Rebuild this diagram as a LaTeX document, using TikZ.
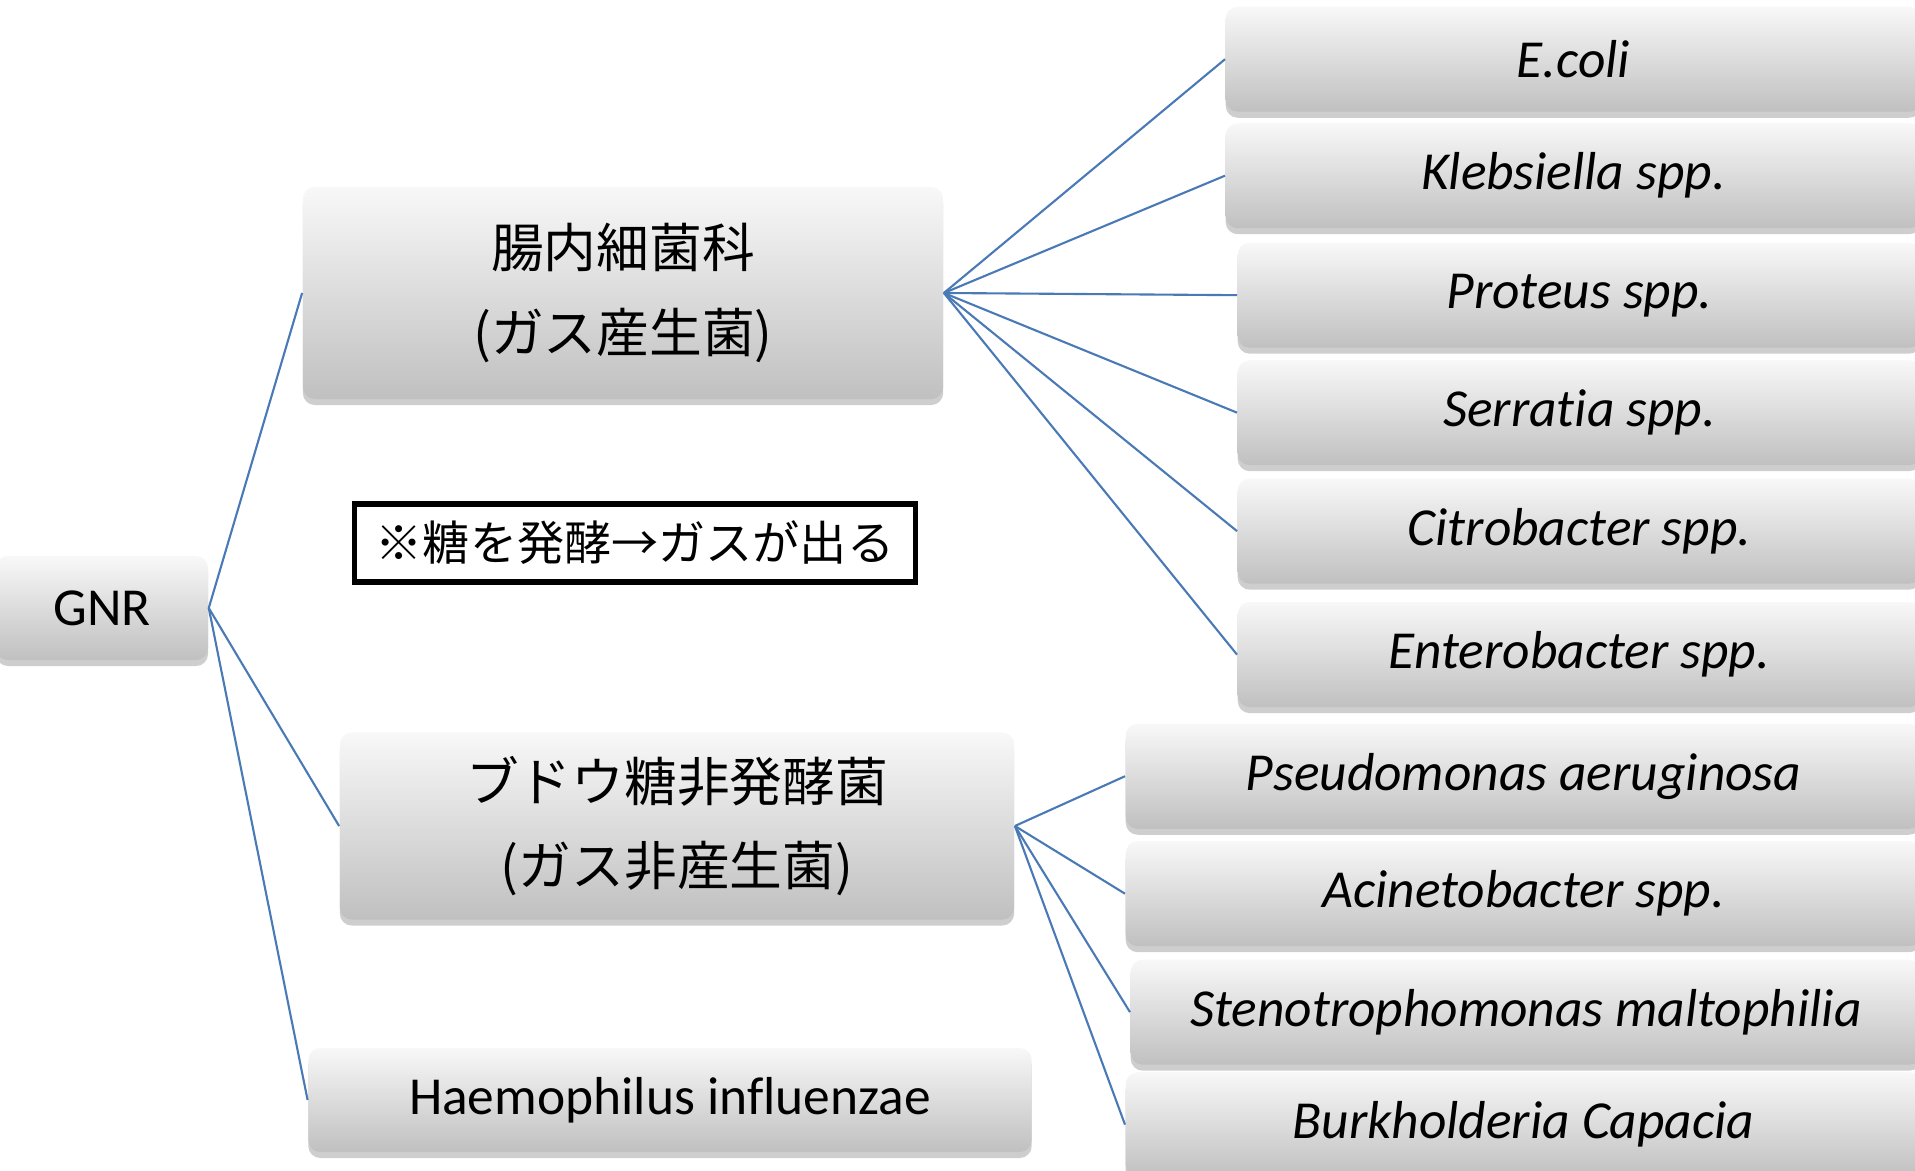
\documentclass[tikz,border=0pt]{standalone}
\usepackage{fontspec}
\setmainfont{Carlito}[Ligatures=NoCommon]
\newfontfamily\jp{Noto Sans CJK JP}
\usetikzlibrary{positioning,shadows}

\definecolor{boxtop}{RGB}{248,248,248}
\definecolor{boxbot}{RGB}{192,192,192}
\definecolor{linkblue}{RGB}{74,122,182}

\tikzset{
  pill/.style={rounded corners=0.12cm, top color=boxtop, bottom color=boxbot,
    drop shadow={shadow xshift=0pt, shadow yshift=-0.06cm, opacity=0.35, fill=black!55},
    align=center, inner sep=0pt, font=\fontsize{15.2}{24}\selectfont},
  family/.style={pill, font=\jp\fontsize{15}{24}\selectfont},
  species/.style={pill, minimum height=1.05cm, font=\fontsize{15.2}{24}\selectfont\itshape},
  link/.style={draw=linkblue, line width=0.6pt},
}

\begin{document}
\begin{tikzpicture}[x=0.01cm, y=-0.01cm]
    \useasboundingbox (0,0) rectangle (1915,1171);
    \clip (0,0) rectangle (1915,1171);

    \node[pill, minimum width=2.12cm, minimum height=1.04cm] (gnr) at (102,608) {GNR};

    \node[family, minimum width=6.4cm, minimum height=2.12cm] (entero) at (623,293)
        {腸内細菌科\\(ガス産生菌)};
    \node[family, minimum width=6.74cm, minimum height=1.87cm] (nonferm) at (677,826)
        {ブドウ糖非発酵菌\\(ガス非産生菌)};
    \node[pill, minimum width=7.23cm, minimum height=1.04cm] (haemo) at (670,1100)
        {Haemophilus influenzae};

    \node[draw, line width=1.5pt, inner sep=0pt, minimum width=5.6cm, minimum height=0.78cm,
          font=\jp\fontsize{13.4}{18}\selectfont] (note) at (635,543) {※糖を発酵→ガスが出る};

    \node[species, minimum width=6.95cm, anchor=north west] (ecoli) at (1225,6) {E.coli};
    \node[species, minimum width=6.95cm, below right=0.1cm and 0cm of ecoli.south west] (kleb) {Klebsiella spp.};
    \node[species, minimum width=6.83cm, below right=0.13cm and 0.12cm of kleb.south west] (proteus) {Proteus spp.};
    \node[species, minimum width=6.83cm, below right=0.11cm and 0cm of proteus.south west] (serratia) {Serratia spp.};
    \node[species, minimum width=6.83cm, below right=0.12cm and 0cm of serratia.south west] (citro) {Citrobacter spp.};
    \node[species, minimum width=6.83cm, below right=0.17cm and 0cm of citro.south west] (entbac) {Enterobacter spp.};

    \node[species, minimum width=7.95cm, anchor=north west] (pseudo) at (1125,723) {Pseudomonas aeruginosa};
    \node[species, minimum width=7.95cm, below right=0.11cm and 0cm of pseudo.south west] (acineto) {Acinetobacter spp.};
    \node[species, minimum width=7.9cm, below right=0.12cm and 0.05cm of acineto.south west] (steno) {Stenotrophomonas maltophilia};
    \node[species, minimum width=7.95cm, below right=0.06cm and -0.05cm of steno.south west] (burk) {Burkholderia Capacia};

    \foreach \t in {entero, nonferm, haemo}
        \draw[link] (gnr.east) -- (\t.west);
    \foreach \t in {ecoli, kleb, proteus, serratia, citro, entbac}
        \draw[link] (entero.east) -- (\t.west);
    \foreach \t in {pseudo, acineto, steno, burk}
        \draw[link] (nonferm.east) -- (\t.west);
\end{tikzpicture}
\end{document}
